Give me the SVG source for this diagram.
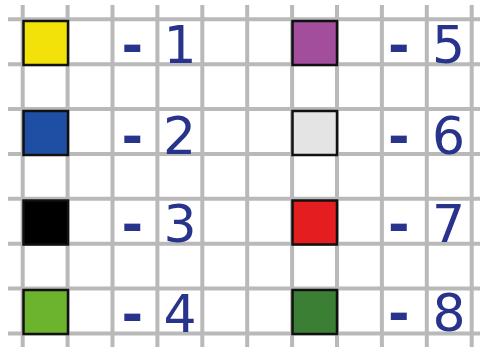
<svg xmlns="http://www.w3.org/2000/svg" width="480" height="347" viewBox="0 0 480 347">
<style>
.g line{stroke:#b9b9b9;stroke-width:4}
.sw{stroke:#111;stroke-width:2.5}
.lbl{font-family:"DejaVu Sans",sans-serif;font-size:52px;fill:#28338c;text-anchor:middle}
.d{font-weight:bold}
</style>
<rect width="480" height="347" fill="#fff"/>
<g id="grid" class="g">
<line x1="22.7" y1="5" x2="22.7" y2="347"/>
<line x1="67.6" y1="5" x2="67.6" y2="347"/>
<line x1="112.5" y1="5" x2="112.5" y2="347"/>
<line x1="157.4" y1="5" x2="157.4" y2="347"/>
<line x1="202.3" y1="5" x2="202.3" y2="347"/>
<line x1="247.2" y1="5" x2="247.2" y2="347"/>
<line x1="292.1" y1="5" x2="292.1" y2="347"/>
<line x1="337" y1="5" x2="337" y2="347"/>
<line x1="381.9" y1="5" x2="381.9" y2="347"/>
<line x1="426.8" y1="5" x2="426.8" y2="347"/>
<line x1="471.7" y1="5" x2="471.7" y2="347"/>
<line x1="8" y1="19.3" x2="480" y2="19.3"/>
<line x1="8" y1="64.2" x2="480" y2="64.2"/>
<line x1="8" y1="109" x2="480" y2="109"/>
<line x1="8" y1="153.9" x2="480" y2="153.9"/>
<line x1="8" y1="198.8" x2="480" y2="198.8"/>
<line x1="8" y1="243.7" x2="480" y2="243.7"/>
<line x1="8" y1="288.5" x2="480" y2="288.5"/>
<line x1="8" y1="333.4" x2="480" y2="333.4"/>
</g>
<g id="item1"><rect class="sw" x="23.5" y="21" width="44.5" height="44" fill="#f2e20a"/><text class="lbl" y="62.5"><tspan class="d" x="140.5">-</tspan> <tspan x="180">1</tspan></text></g>
<g id="item2"><rect class="sw" x="23.5" y="111" width="44.5" height="44" fill="#1f4fa4"/><text class="lbl" y="153.5"><tspan class="d" x="140.5">-</tspan> <tspan x="179.5">2</tspan></text></g>
<g id="item3"><rect class="sw" x="23.5" y="200.5" width="44.5" height="44" fill="#000"/><text class="lbl" y="242"><tspan class="d" x="140.5">-</tspan> <tspan x="180">3</tspan></text></g>
<g id="item4"><rect class="sw" x="23.5" y="290" width="44.5" height="44" fill="#6cb42e"/><text class="lbl" y="331.5"><tspan class="d" x="140.5">-</tspan> <tspan x="180">4</tspan></text></g>
<g id="item5"><rect class="sw" x="292.5" y="21" width="44.5" height="44" fill="#a24e9d"/><text class="lbl" y="63"><tspan class="d" x="407">-</tspan> <tspan x="448.5">5</tspan></text></g>
<g id="item6"><rect class="sw" x="292.5" y="111" width="44.5" height="44" fill="#e4e4e4"/><text class="lbl" y="154"><tspan class="d" x="407">-</tspan> <tspan x="448.5">6</tspan></text></g>
<g id="item7"><rect class="sw" x="292.5" y="200.5" width="44.5" height="44" fill="#e41e20"/><text class="lbl" y="242"><tspan class="d" x="407">-</tspan> <tspan x="448.5">7</tspan></text></g>
<g id="item8"><rect class="sw" x="292.5" y="290" width="44.5" height="44" fill="#3b7f35"/><text class="lbl" y="331"><tspan class="d" x="407">-</tspan> <tspan x="449">8</tspan></text></g>
</svg>
